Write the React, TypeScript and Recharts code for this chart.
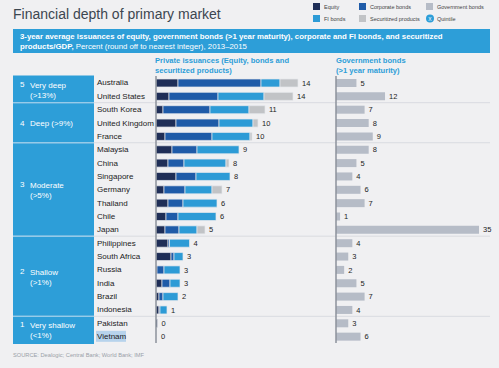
import { Bar, BarChart, LabelList, XAxis, YAxis } from "recharts"

const countries = [
  "Australia", "United States", "South Korea", "United Kingdom", "France",
  "Malaysia", "China", "Singapore", "Germany", "Thailand", "Chile", "Japan",
  "Philippines", "South Africa", "Russia", "India", "Brazil", "Indonesia",
  "Pakistan", "Vietnam",
]
const equity = [2.2, 1.3, 0.7, 2.0, 0.9, 1.6, 1.2, 2.0, 0.8, 1.2, 1.0, 0.9, 1.2, 1.5, 0.1, 0.6, 0.3, 0.3, 0.15, 0]
const corporate = [8.3, 4.9, 4.7, 4.3, 4.7, 2.5, 1.6, 2.0, 2.1, 1.5, 1.2, 1.4, 0.15, 0.3, 0.7, 0.8, 0.4, 0.1, 0, 0]
const fiBonds = [1.9, 4.6, 3.9, 3.4, 3.8, 4.2, 4.2, 3.4, 2.7, 3.4, 3.8, 1.8, 2.0, 0.9, 1.6, 1.0, 1.5, 0.7, 0, 0]
const securitized = [1.8, 2.9, 1.6, 0.5, 0.2, 0, 0.3, 0, 1.0, 0, 0, 0.8, 0, 0, 0, 0, 0, 0, 0, 0]
const privateTotals = [14, 14, 11, 10, 10, 9, 8, 8, 7, 6, 6, 5, 4, 3, 3, 3, 2, 1, 0, 0]
const government = [5, 12, 7, 8, 9, 8, 5, 4, 6, 7, 1, 35, 4, 3, 2, 5, 7, 4, 3, 6]

// quintile groups: number, name, threshold, rows covered
const quintileNums = ["5", "4", "3", "2", "1"]
const quintileNames = ["Very deep", "Deep (>9%)", "Moderate", "Shallow", "Very shallow"]
const quintileRanges = ["(>13%)", "", "(>5%)", "(>1%)", "(<1%)"]
const quintileRows = [2, 3, 7, 6, 2]

const data = countries.map((c, i) => ({
  country: c,
  equity: equity[i],
  corporate: corporate[i],
  fi: fiBonds[i],
  sec: securitized[i],
  stack: equity[i] + corporate[i] + fiBonds[i] + securitized[i],
  gov: government[i],
}))

const FONT = "'Liberation Sans', Arial, sans-serif"
const BLUE = "#2d9ed8"
const C_EQ = "#1f2e57"
const C_CORP = "#1f5ba8"
const C_FI = "#2d9bd6"
const C_SEC = "#c1c3c6"
const C_GOV = "#b6bcc7"
const AXIS = "#8d929b"
const GAP = "#e6e8ec"

const TOP = 76
const H = 350
const BOTTOM = 7
const ROW = (H - TOP - BOTTOM) / countries.length

function CountryTick(props: any) {
  const { y, payload } = props
  const isViet = payload.value === "Vietnam"
  return (
    <g>
      {isViet && <rect x={96} y={y - 5.5} width={30} height={11} fill="#b7d3ec" />}
      <text x={97} y={y} dy="0.35em" textAnchor="start" fontSize={8} fill="#222" fontFamily={FONT}>
        {payload.value}
      </text>
    </g>
  )
}

function Decorations() {
  let acc = 0
  const bounds = quintileRows.map((n) => {
    const start = acc
    acc += n
    return [TOP + start * ROW, TOP + acc * ROW]
  })
  const legend1 = [
    { c: C_EQ, t: "Equity", x: 313 },
    { c: C_CORP, t: "Corporate bonds", x: 359 },
    { c: C_GOV, t: "Government bonds", x: 426 },
  ]
  const legend2 = [
    { c: C_FI, t: "FI bonds", x: 313 },
    { c: C_SEC, t: "Securitized products", x: 359 },
  ]
  return (
    <svg width={499} height={368} style={{ position: "absolute", left: 0, top: 0, fontFamily: FONT }}>
      <rect width={499} height={368} fill="#f0f0f2" />
      <text x={13} y={19} fontSize={14} fill="#3c4650">Financial depth of primary market</text>
      {legend1.map((l) => (
        <g key={l.t}>
          <rect x={l.x} y={3} width={7} height={7} fill={l.c} />
          <text x={l.x + 11} y={8.5} fontSize={5.5} fill="#444">{l.t}</text>
        </g>
      ))}
      {legend2.map((l) => (
        <g key={l.t}>
          <rect x={l.x} y={15} width={7} height={7} fill={l.c} />
          <text x={l.x + 11} y={20.5} fontSize={5.5} fill="#444">{l.t}</text>
        </g>
      ))}
      <circle cx={430} cy={18.5} r={4} fill={BLUE} />
      <text x={430} y={20.5} fontSize={5} fill="#fff" textAnchor="middle">X</text>
      <text x={437} y={20.5} fontSize={5.5} fill="#444">Quintile</text>

      <rect x={13} y={29} width={477} height={24} fill={BLUE} />
      <text x={20} y={38.5} fontSize={7.8} fill="#fff" fontWeight="bold">
        3-year average issuances of equity, government bonds (&gt;1 year maturity), corporate and FI bonds, and securitized
      </text>
      <text x={20} y={48.5} fontSize={7.8} fill="#fff">
        <tspan fontWeight="bold">products/GDP,</tspan> Percent (round off to nearest integer), 2013–2015
      </text>

      <text x={155} y={63} fontSize={7.6} fill={BLUE} fontWeight="bold">Private issuances (Equity, bonds and</text>
      <text x={155} y={72.5} fontSize={7.6} fill={BLUE} fontWeight="bold">securitized products)</text>
      <text x={336} y={63} fontSize={7.6} fill={BLUE} fontWeight="bold">Government bonds</text>
      <text x={336} y={72.5} fontSize={7.6} fill={BLUE} fontWeight="bold">(&gt;1 year maturity)</text>

      <rect x={13} y={bounds[0][0] - 0.5} width={81} height={bounds[4][1] - bounds[0][0] + 1.5} fill={BLUE} />
      {bounds.map((b, i) => {
        const mid = (b[0] + b[1]) / 2
        const two = !!quintileRanges[i]
        return (
          <g key={i}>
            {i > 0 && <line x1={13} x2={490} y1={b[0]} y2={b[0]} stroke="#d9dbe0" strokeWidth={1} />}
            {i > 0 && <line x1={13} x2={94} y1={b[0]} y2={b[0]} stroke="#8fcbed" strokeWidth={1} />}
            <text x={20} y={two ? mid - 2.5 : mid + 3} fontSize={8} fill="#fff">{quintileNums[i]}</text>
            <text x={30} y={two ? mid - 1.5 : mid + 3} fontSize={8} fill="#fff">{quintileNames[i]}</text>
            {two && <text x={30} y={mid + 8.5} fontSize={8} fill="#fff">{quintileRanges[i]}</text>}
          </g>
        )
      })}

      <text x={13} y={357} fontSize={5.7} fill="#9aa0a8">SOURCE: Dealogic; Central Bank; World Bank; IMF</text>
    </svg>
  )
}

const valueLabel = (vals: number[]) => (props: any) => {
  const { x, y, width, height, index } = props
  return (
    <text x={x + width + 4} y={y + height / 2} dy="0.35em" fontSize={7.5} fill="#222" fontFamily={FONT}>
      {vals[index]}
    </text>
  )
}

export default function App() {
  return (
    <div style={{ position: "absolute", left: 0, top: 0, width: 499, height: 368 }}>
      <Decorations />
      <div style={{ position: "absolute", left: 0, top: 0 }}>
        <BarChart
          width={330}
          height={H}
          data={data}
          layout="vertical"
          margin={{ top: TOP, bottom: BOTTOM, left: 0, right: 24 }}
          barSize={8}
        >
          <XAxis type="number" domain={[0, 15]} hide />
          <YAxis
            type="category"
            dataKey="country"
            width={156}
            tickLine={false}
            axisLine={{ stroke: AXIS, strokeWidth: 1.5 }}
            tick={<CountryTick />}
            interval={0}
          />
          <YAxis yAxisId="t" type="category" dataKey="country" hide />
          <Bar dataKey="equity" stackId="p" fill={C_EQ} stroke={GAP} strokeWidth={0.7} isAnimationActive={false} />
          <Bar dataKey="corporate" stackId="p" fill={C_CORP} stroke={GAP} strokeWidth={0.7} isAnimationActive={false} />
          <Bar dataKey="fi" stackId="p" fill={C_FI} stroke={GAP} strokeWidth={0.7} isAnimationActive={false} />
          <Bar dataKey="sec" stackId="p" fill={C_SEC} stroke={GAP} strokeWidth={0.7} isAnimationActive={false} />
          <Bar yAxisId="t" dataKey="stack" fill="none" minPointSize={1} isAnimationActive={false}>
            <LabelList dataKey="stack" content={valueLabel(privateTotals)} />
          </Bar>
        </BarChart>
      </div>
      <div style={{ position: "absolute", left: 300, top: 0 }}>
        <BarChart
          width={195}
          height={H}
          data={data}
          layout="vertical"
          margin={{ top: TOP, bottom: BOTTOM, left: 0, right: 16 }}
          barSize={8}
        >
          <XAxis type="number" domain={[0, 35]} hide />
          <YAxis
            type="category"
            dataKey="country"
            width={36}
            tickLine={false}
            tick={false}
            axisLine={{ stroke: AXIS, strokeWidth: 1.5 }}
          />
          <Bar dataKey="gov" fill={C_GOV} isAnimationActive={false}>
            <LabelList dataKey="gov" content={valueLabel(government)} />
          </Bar>
        </BarChart>
      </div>
    </div>
  )
}
